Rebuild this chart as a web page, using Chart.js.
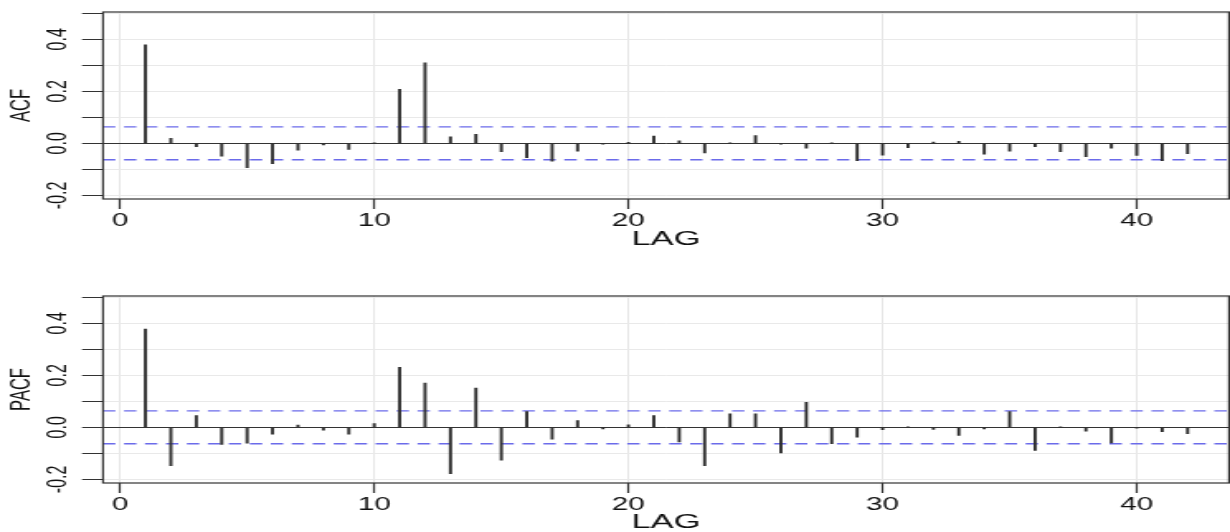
<!DOCTYPE html>
<html>
<head>
<meta charset="utf-8">
<script src="https://cdn.jsdelivr.net/npm/chart.js@4.4.0/dist/chart.umd.min.js"></script>
<style>
  html, body { margin: 0; padding: 0; background: #fff; }
  body { width: 1230px; height: 532px; position: relative; overflow: hidden; }
  canvas { position: absolute; left: 0; }
</style>
</head>
<body>
<canvas id="acfChart" width="745" height="266" style="top:0px;width:1230px;height:266px"></canvas>
<canvas id="pacfChart" width="745" height="248" style="top:284px;width:1230px;height:248px"></canvas>
<script>
// lags 1..42
const lags = [1, 2, 3, 4, 5, 6, 7, 8, 9, 10, 11, 12, 13, 14, 15, 16, 17, 18, 19, 20, 21,
  22, 23, 24, 25, 26, 27, 28, 29, 30, 31, 32, 33, 34, 35, 36, 37, 38, 39, 40, 41, 42];

const acfValues = [0.379, 0.019, -0.013, -0.049, -0.094, -0.078, -0.026, -0.006, -0.023, 0.002,
  0.208, 0.31, 0.025, 0.035, -0.032, -0.055, -0.069, -0.03, -0.003, 0.004,
  0.028, 0.01, -0.037, 0.001, 0.03, -0.003, -0.019, 0.001, -0.067, -0.045,
  -0.017, 0.005, 0.008, -0.042, -0.03, -0.013, -0.032, -0.051, -0.019, -0.046,
  -0.067, -0.04];

const pacfValues = [0.378, -0.147, 0.045, -0.066, -0.061, -0.026, 0.009, -0.011, -0.026, 0.014,
  0.231, 0.17, -0.178, 0.151, -0.126, 0.061, -0.045, 0.026, -0.006, 0.01,
  0.045, -0.056, -0.147, 0.052, 0.052, -0.098, 0.096, -0.063, -0.038, -0.009,
  0.001, -0.008, -0.031, -0.006, 0.061, -0.089, 0.001, -0.015, -0.06, -0.003,
  -0.017, -0.024];

// significance bound (+/-)
const confBound = 0.063;

const xTicks = [0, 10, 20, 30, 40];
const yTicks = [-0.2, -0.1, 0.0, 0.1, 0.2, 0.3, 0.4, 0.5];
const yTickLabels = ["-0.2", "", "0.0", "", "0.2", "", "0.4", ""];

const xMin = -0.669, xMax = 43.63;
const yMin = -0.214, yMax = 0.505;

// full box round the plot area
const framePlugin = {
  id: "frame",
  afterDatasetsDraw(chart) {
    const { ctx, chartArea: a } = chart;
    ctx.save();
    ctx.strokeStyle = "#333";
    ctx.lineWidth = 1.2;
    ctx.strokeRect(a.left, a.top, a.right - a.left, a.bottom - a.top);
    ctx.restore();
  },
};

function confLine(y) {
  return {
    type: "line",
    data: [{ x: xMin, y: y }, { x: xMax, y: y }],
    borderColor: "#6b6bea",
    borderWidth: 1.3,
    borderDash: [7.5, 5.2],
    pointRadius: 0,
    fill: false,
  };
}

function makeChart(id, values, yTitle, xAxisHeight, lagPadding) {
  return new Chart(document.getElementById(id), {
    type: "bar",
    data: {
      datasets: [
        {
          data: lags.map((l, i) => ({ x: l, y: values[i] })),
          backgroundColor: "#2e2e2e",
          borderWidth: 0,
          barThickness: 1.25,
        },
        confLine(confBound),
        confLine(-confBound),
      ],
    },
    options: {
      responsive: false,
      animation: false,
      events: [],
      layout: { padding: { top: 12, right: 0.6, left: 0, bottom: 0 } },
      plugins: { legend: { display: false }, tooltip: { enabled: false } },
      scales: {
        x: {
          type: "linear",
          min: xMin,
          max: xMax,
          offset: false,
          afterBuildTicks: (s) => {
            s.ticks = xTicks.map((v) => ({ value: v }));
          },
          afterFit: (s) => {
            s.height = xAxisHeight;
          },
          grid: {
            offset: false,
            color: "#e6e6e6",
            lineWidth: 1,
            tickColor: "#333",
            tickWidth: 1.2,
            tickLength: 10,
          },
          border: { display: false },
          ticks: {
            padding: 1,
            color: "#111",
            font: { family: "Liberation Sans", size: 18 },
            maxRotation: 0,
            autoSkip: false,
          },
          title: {
            display: true,
            text: "LAG",
            color: "#111",
            font: { family: "Liberation Sans", size: 21, lineHeight: 1 },
            padding: { top: 0, bottom: lagPadding },
          },
        },
        y: {
          min: yMin,
          max: yMax,
          afterBuildTicks: (s) => {
            s.ticks = yTicks.map((v) => ({ value: v }));
          },
          afterFit: (s) => {
            s.width = 62.4;
          },
          grid: {
            color: (c) => (c.tick && Math.abs(c.tick.value) < 1e-9 ? "#333" : "#e9e9e9"),
            lineWidth: 1,
            tickColor: "#333",
            tickWidth: 1,
            tickLength: 12.7,
          },
          border: { display: false },
          ticks: {
            color: "#111",
            font: { family: "Liberation Sans", size: 16 },
            minRotation: 90,
            maxRotation: 90,
            crossAlign: "center",
            padding: 0,
            autoSkip: false,
            callback: (v, i) => yTickLabels[i],
          },
          title: {
            display: true,
            text: yTitle,
            color: "#111",
            font: { family: "Liberation Sans", size: 16.5 },
            padding: { top: 3.5, bottom: 0 },
          },
        },
      },
    },
    plugins: [framePlugin],
  });
}

makeChart("acfChart", acfValues, "ACF", 67, 16.5);
makeChart("pacfChart", pacfValues, "PACF", 49, -0.5);
</script>
</body>
</html>
